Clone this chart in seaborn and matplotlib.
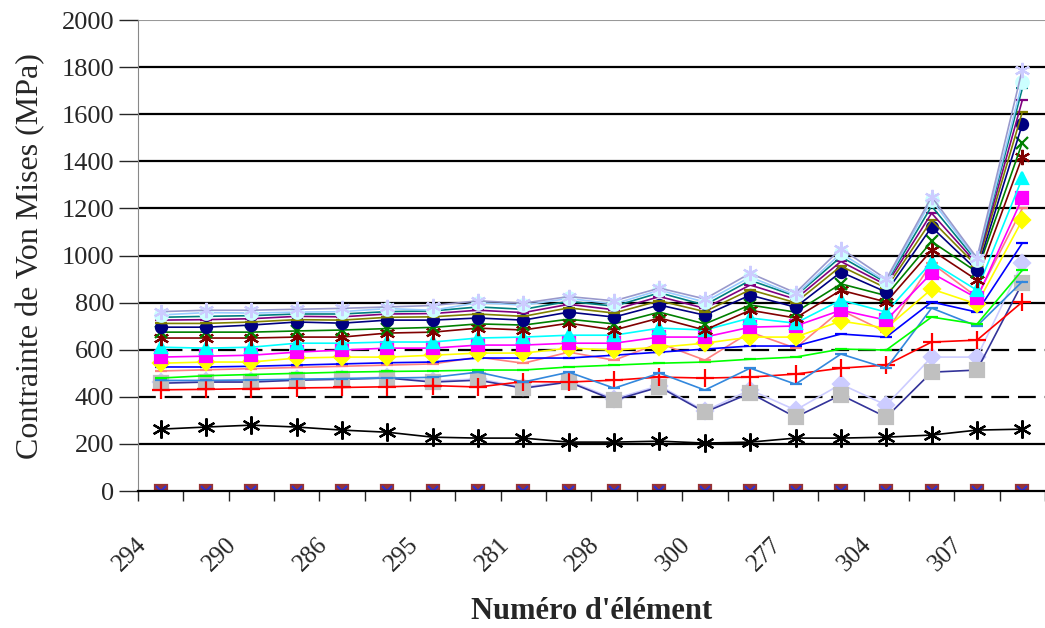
import numpy as np
import pandas as pd
import matplotlib
matplotlib.use("Agg")
import matplotlib.pyplot as plt
import matplotlib.transforms as mtransforms
import seaborn as sns

sns.set_style("white")
plt.rcParams['font.family'] = ['Liberation Serif', 'DejaVu Serif']

# 20 éléments, seuls les pairs sont étiquetés sur l'axe
positions = list(range(20))
tick_labels = ["294", "290", "286", "295", "281", "298", "300", "277", "304", "307"]

zero = [0] * 20
etoile_noire = [263, 272, 280, 272, 259, 250, 229, 225, 225, 208, 208, 212, 204, 208, 225, 225, 229, 238, 259, 263]
gris_carre = [458, 463, 463, 471, 475, 480, 463, 471, 437, 463, 386, 442, 335, 416, 314, 408, 314, 505, 514, 883]
lavande_losange = [462, 466, 468, 474, 478, 484, 468, 476, 442, 468, 392, 448, 340, 430, 344, 454, 365, 569, 569, 968]
rouge_plus = [430, 432, 435, 438, 440, 443, 448, 442, 465, 463, 471, 484, 480, 484, 497, 522, 535, 633, 641, 803]
bleu_acier = [470, 470, 472, 475, 478, 480, 483, 505, 463, 505, 437, 501, 429, 522, 454, 582, 522, 777, 701, 890]
vert_clair = [480, 490, 495, 500, 505, 508, 510, 514, 514, 527, 535, 543, 548, 560, 569, 603, 599, 739, 709, 938]
saumon = [510, 515, 520, 525, 530, 535, 540, 569, 543, 590, 556, 628, 556, 675, 607, 768, 675, 968, 824, 1200]
bleu = [527, 527, 530, 535, 540, 545, 548, 565, 565, 565, 577, 590, 603, 616, 616, 667, 654, 803, 760, 1053]
jaune = [543, 548, 548, 565, 569, 569, 577, 586, 586, 607, 599, 611, 628, 654, 654, 722, 692, 858, 794, 1151]
magenta = [569, 573, 577, 590, 599, 607, 607, 620, 620, 628, 628, 654, 654, 696, 701, 768, 726, 926, 819, 1244]
cyan = [611, 607, 611, 628, 628, 633, 633, 650, 654, 662, 662, 692, 684, 735, 713, 811, 760, 972, 853, 1329]
bordeaux = [650, 650, 650, 654, 654, 671, 675, 692, 684, 713, 684, 735, 684, 768, 735, 853, 803, 1023, 896, 1420]
vert_x = [675, 675, 675, 680, 684, 690, 695, 710, 705, 730, 710, 760, 710, 790, 760, 880, 830, 1060, 930, 1480]
marine = [696, 696, 705, 718, 713, 726, 726, 735, 726, 760, 739, 790, 747, 832, 781, 930, 845, 1121, 938, 1558]
olive = [712, 712, 718, 728, 726, 738, 740, 752, 742, 778, 756, 808, 762, 855, 800, 955, 862, 1150, 955, 1610]
violet = [726, 728, 732, 742, 740, 752, 754, 768, 758, 793, 770, 826, 776, 875, 815, 975, 875, 1180, 965, 1660]
sarcelle = [738, 742, 745, 752, 752, 762, 765, 782, 772, 806, 785, 842, 790, 895, 828, 995, 885, 1210, 975, 1710]
cyan_pale = [748, 758, 756, 760, 762, 775, 768, 800, 790, 818, 795, 853, 803, 909, 832, 1010, 890, 1236, 981, 1737]
etoile_haut = [762, 768, 768, 772, 776, 782, 788, 808, 798, 826, 808, 862, 816, 925, 842, 1030, 900, 1250, 990, 1790]

asterisk = (6, 2, 0)
# (valeurs, couleur de ligne, marqueur, couleur du marqueur, taille)
series = [
    (zero, '#6666CC', 's', '#993333', 9),
    (zero, '#6666CC', 'x', '#3333CC', 7),
    (etoile_noire, '#000000', asterisk, '#000000', 13),
    (lavande_losange, '#CCCCFF', 'D', '#CCCCFF', 8),
    (gris_carre, '#333399', 's', '#C0C0C0', 10),
    (rouge_plus, '#FF0000', '+', '#FF0000', 13),
    (bleu_acier, '#3388DD', '_', '#3388DD', 9),
    (vert_clair, '#00FF00', '_', '#00FF00', 9),
    (saumon, '#FF8080', '_', '#FF8080', 9),
    (bleu, '#0000FF', '_', '#0000FF', 9),
    (jaune, '#FFFF00', 'D', '#FFFF00', 8),
    (magenta, '#FF00FF', 's', '#FF00FF', 8),
    (cyan, '#00FFFF', '^', '#00FFFF', 9),
    (bordeaux, '#800000', asterisk, '#800000', 11),
    (vert_x, '#008000', 'x', '#008000', 9),
    (marine, '#000080', 'o', '#000080', 8),
    (olive, '#808000', '_', '#808000', 9),
    (violet, '#800080', '_', '#800080', 9),
    (sarcelle, '#008080', '_', '#008080', 9),
    (cyan_pale, '#99CCFF', 'o', '#CCFFFF', 9),
    (etoile_haut, '#9999CC', asterisk, '#CCCCFF', 11),
]

fig = plt.figure(figsize=(10.45, 6.28), dpi=100)
ax = fig.add_axes([0.132, 0.218, 0.868, 0.75])

for k in range(0, 2001, 200):
    if k in (400, 600):
        ax.axhline(k, color='black', lw=1.6, ls=(0, (8, 4)), zorder=0)
    elif k == 2000:
        ax.axhline(k, color='#999999', lw=1.5, zorder=0)
    elif k > 0:
        ax.axhline(k, color='black', lw=1.6, zorder=0)

for vals, lc, mk, mc, ms in series:
    df = pd.DataFrame({'x': positions, 'y': vals})
    sns.lineplot(data=df, x='x', y='y', ax=ax, color=lc, lw=1.2,
                 marker=mk, markersize=ms, markerfacecolor=mc,
                 markeredgecolor=mc, markeredgewidth=1.6)

ax.set_xlim(-0.5, 19.5)
ax.set_ylim(0, 2000)
ax.set_yticks(range(0, 2001, 200))
ax.tick_params(axis='y', labelsize=19, direction='out', length=14, width=1,
               left=True, pad=3)

# étiquettes de catégories décalées vers la gauche, comme dans Excel
ax.set_xticks(np.arange(-0.5, 20, 1), minor=True)
ax.set_xticks(positions[::2])
ax.set_xticklabels([])
ax.tick_params(axis='x', which='major', length=0)
ax.tick_params(axis='x', which='minor', direction='out', length=7, width=1, bottom=True)
shift = mtransforms.ScaledTranslation(-0.31, -0.42, fig.dpi_scale_trans)
for p, lab in zip(positions[::2], tick_labels):
    ax.text(p, 0, lab, rotation=45, ha='center', va='top', fontsize=18,
            transform=ax.get_xaxis_transform() + shift, clip_on=False)

for s in ['top', 'right']:
    ax.spines[s].set_visible(False)
ax.spines['left'].set_color('#888888')
ax.spines['bottom'].set_color('black')
ax.spines['bottom'].set_linewidth(1.6)

ax.set_ylabel('Contrainte de Von Mises (MPa)', fontsize=23, labelpad=12)
ax.set_xlabel("Numéro d'élément", fontsize=22, fontweight='bold')
ax.xaxis.set_label_coords(0.5, -0.225)

fig.savefig('out.png', dpi=100)
